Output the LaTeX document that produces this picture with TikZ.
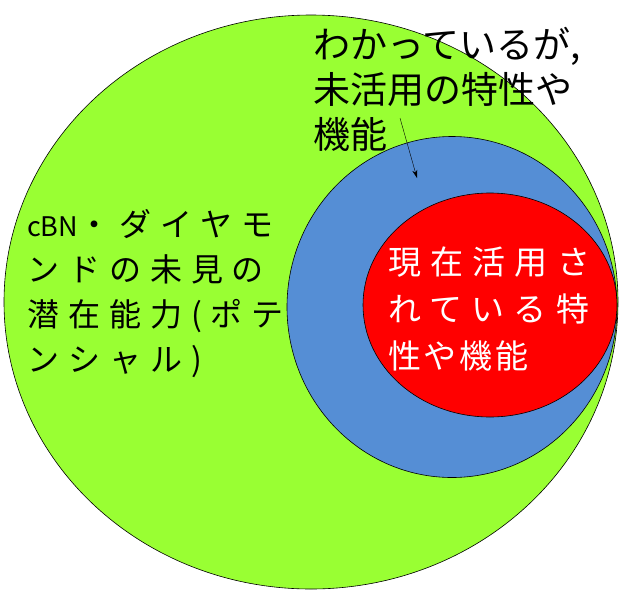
\documentclass[tikz,border=0pt]{standalone}
\usepackage{fontspec}
\newfontfamily\jpfont{Noto Sans CJK JP}
\newfontfamily\jpwide[LetterSpace=28]{Noto Sans CJK JP}
\newfontfamily\jpsome[LetterSpace=8]{Noto Sans CJK JP}
\usetikzlibrary{positioning,shapes,arrows.meta}
\definecolor{potential}{RGB}{153,255,51}
\definecolor{known}{RGB}{85,142,213}
\definecolor{current}{RGB}{255,0,0}

\begin{document}
\begin{tikzpicture}[x=1pt,y=-1pt, zone/.style = {draw, ellipse, line width=0.6pt, inner sep=0pt}, txt/.style = {anchor=north west, inner sep=0pt, align=left}]
  \useasboundingbox (0,0) rectangle (619,590);
  \node[zone, fill=potential, minimum width=614, minimum height=574] (green) at (311,302) {};
  \node[zone, fill=known, minimum width=330, minimum height=341] (blue) at (452,307) {};
  \node[zone, fill=current, minimum width=254, minimum height=224] (red) at (490,305) {};

  \node[txt, font=\jpfont\fontsize{37}{45}\selectfont] (unused) at (313,27) {わかっているが,\\未活用の特性や\\機能};
  \node[txt, font=\jpwide\fontsize{32}{45}\selectfont] (hidden) at (27,209) {{\jpfont\fontsize{27}{45}\selectfont cBN}・ダイヤモ\\ンドの未見の\\潜在能力(ポテ\\ンシャル)};
  \node[txt, font=\jpwide\fontsize{33}{47}\selectfont, text=white] (used) at (388,247) {現在活用さ\\れている特\\{\jpsome 性や機能}};

  \coordinate (tail) at (400,118);
  \coordinate (tip) at (417,178);
  \draw[-{Stealth[length=8pt,width=5pt]}] (tail) -- (tip);
\end{tikzpicture}
\end{document}
